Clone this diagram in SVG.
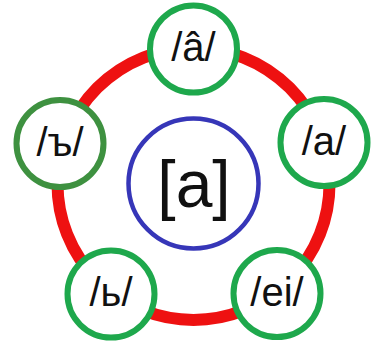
<svg xmlns="http://www.w3.org/2000/svg" width="371" height="347" viewBox="0 0 371 347">
<style>
.node{fill:#fff;stroke:#1ea84c;stroke-width:6}
.dark{stroke:#3e9140}
.lbl{font-family:"Liberation Sans",Arial,sans-serif;font-size:40px;fill:#111;text-anchor:middle}
</style>
<rect width="371" height="347" fill="#fff"/>
<g id="connectors">
<circle cx="193.5" cy="184" r="136" fill="none" stroke="#ee1111" stroke-width="12"/>
</g>
<g id="center">
<circle cx="193.5" cy="183.5" r="65" fill="none" stroke="#3636b8" stroke-width="4.5"/>
<text x="194" y="207" class="lbl" style="font-size:66px">[a]</text>
</g>
<g id="n-top">
<circle class="node" cx="193.5" cy="49" r="43.5"/>
<text class="lbl" x="193.5" y="61">/â/</text>
</g>
<g id="n-right">
<circle class="node" cx="324" cy="142.5" r="43.5"/>
<text class="lbl" x="324" y="155">/a/</text>
</g>
<g id="n-bottom-right">
<circle class="node" cx="277" cy="293.5" r="43.5"/>
<text class="lbl" x="277" y="306">/ei/</text>
</g>
<g id="n-bottom-left">
<circle class="node" cx="111" cy="294" r="43.5"/>
<text class="lbl" x="111" y="306">/ь/</text>
</g>
<g id="n-left">
<circle class="node dark" cx="60" cy="143.5" r="43.5"/>
<text class="lbl" x="60" y="156">/ъ/</text>
</g>
</svg>
